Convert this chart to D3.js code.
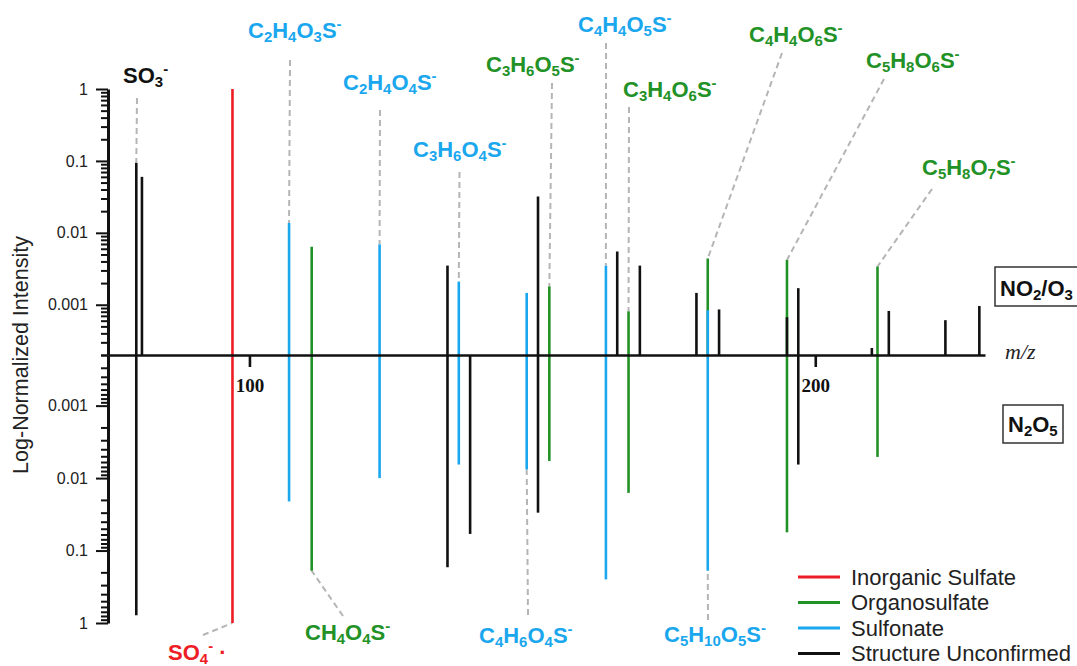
<!DOCTYPE html>
<html><head><meta charset="utf-8">
<script src="https://cdn.jsdelivr.net/npm/d3@7"></script>
<style>body{margin:0;background:#fff} svg{display:block}</style>
</head><body><svg id="c" width="1077" height="666"></svg>
<script>
// ---------------- DATA ----------------
const categories = ["Inorganic Sulfate","Organosulfate","Sulfonate","Structure Unconfirmed"];
// NO2/O3 panel (upward)
const topMz    = [80, 81, 97, 107, 111, 123, 135, 137, 149, 151, 153, 163, 165, 167, 169, 179, 181, 181, 183, 195, 195, 197, 210, 211, 213, 223, 229];
const topValue = [0.094, 0.060, 1, 0.0137, 0.0064, 0.0069, 0.0035, 0.0021, 0.00146, 0.032, 0.0018, 0.0035, 0.0055, 0.00081, 0.0035, 0.00146, 0.0044, 0.00084, 0.00086, 0.0042, 0.00067, 0.0017, 0.00025, 0.0034, 0.00082, 0.00061, 0.00096];
const topCat   = [3, 3, 0, 2, 1, 2, 3, 2, 2, 3, 1, 2, 3, 1, 3, 3, 1, 2, 3, 1, 3, 3, 3, 1, 3, 3, 3];
// N2O5 panel (downward)
const botMz    = [80, 97, 107, 111, 123, 135, 137, 139, 149, 151, 153, 163, 167, 181, 195, 197, 211];
const botValue = [0.78, 1, 0.021, 0.19, 0.010, 0.17, 0.0065, 0.059, 0.0076, 0.030, 0.0058, 0.25, 0.016, 0.19, 0.056, 0.0065, 0.0051];
const botCat   = [3, 0, 2, 1, 2, 3, 2, 3, 2, 3, 1, 2, 1, 2, 1, 3, 1];
// tick labels
const xTicks = [100, 200];
const yMajor = [1, 0.1, 0.01, 0.001];
// annotated ions: formula, m/z, panel, category
const ionLabels = [
  {f:"SO_3^-",      mz:80,  panel:"top", cat:3},
  {f:"C_2H_4O_3S^-", mz:107, panel:"top", cat:2},
  {f:"C_2H_4O_4S^-", mz:123, panel:"top", cat:2},
  {f:"C_3H_6O_4S^-", mz:137, panel:"top", cat:2},
  {f:"C_3H_6O_5S^-", mz:153, panel:"top", cat:1},
  {f:"C_4H_4O_5S^-", mz:163, panel:"top", cat:2},
  {f:"C_3H_4O_6S^-", mz:167, panel:"top", cat:1},
  {f:"C_4H_4O_6S^-", mz:181, panel:"top", cat:1},
  {f:"C_5H_8O_6S^-", mz:195, panel:"top", cat:1},
  {f:"C_5H_8O_7S^-", mz:211, panel:"top", cat:1},
  {f:"SO_4^- ·",     mz:97,  panel:"bot", cat:0},
  {f:"CH_4O_4S^-",   mz:111, panel:"bot", cat:1},
  {f:"C_4H_6O_4S^-", mz:149, panel:"bot", cat:2},
  {f:"C_5H_10O_5S^-",mz:181, panel:"bot", cat:2}
];
const panelNames = ["NO_2/O_3", "N_2O_5"];

// ---------------- LAYOUT / STYLE ----------------
const colors = ["#ee1c24", "#229126", "#1aa7ee", "#111111"];
// label placement: [text left x, baseline y, leader start x, leader start y]
const labelPos = [
  [123, 83, 137, 98],
  [248, 38, 290, 60],
  [343, 90, 380, 110],
  [413, 157, 459.5, 172],
  [486, 72, 552, 83],
  [578, 32, 606, 43],
  [623, 97, 629, 107],
  [749, 42, 782, 53],
  [866, 68, 884, 79],
  [922, 175, 932, 189],
  [168, 660, 203, 635],
  [305, 640, 343, 616],
  [479, 643, 528, 615],
  [664, 642, 708, 620]
];

const svg = d3.select("#c");
const x = d3.scaleLinear().domain([75, 230]).range([108, 985]);
const floorV = 0.0002;
const yTop = d3.scaleLog().domain([floorV, 1]).range([355, 89]);
const yBot = d3.scaleLog().domain([floorV, 1]).range([355, 623]);
const sans = "'Liberation Sans', Arial, Helvetica, sans-serif";
const serif = "'Liberation Serif', 'Times New Roman', serif";

function parseFormula(s){
  const parts=[]; let i=0;
  while(i<s.length){
    const c=s[i];
    if(c==='_'){ let j=i+1; while(j<s.length && /[0-9]/.test(s[j])) j++; parts.push({t:s.slice(i+1,j),k:'sub'}); i=j; }
    else if(c==='^'){ let j=i+1; while(j<s.length && !/[A-Z_\/ ]/.test(s[j])) j++; parts.push({t:s.slice(i+1,j),k:'sup'}); i=j; }
    else { let j=i; while(j<s.length && !'_^'.includes(s[j])) j++; parts.push({t:s.slice(i,j),k:'n'}); i=j; }
  }
  return parts;
}
function drawFormula(g, s, px, py, size, color, weight){
  const t = g.append("text").attr("x", px).attr("y", py)
    .attr("font-family", sans).attr("font-weight", weight||"bold")
    .attr("font-size", size).attr("fill", color).attr("xml:space", "preserve");
  let cur = 0;
  parseFormula(s).forEach(p=>{
    const target = p.k==='sub' ? size*0.2 : p.k==='sup' ? -size*0.42 : 0;
    t.append("tspan").attr("dy", target-cur)
      .attr("font-size", p.k==='n' ? size : size*0.68).text(p.t);
    cur = target;
  });
  return t;
}

// leaders (below spikes)
const gLead = svg.append("g");
ionLabels.forEach((d,i)=>{
  const lp = labelPos[i];
  const yEnd = d.panel==="top"
    ? yTop(topValue[topMz.findIndex((m,k)=>m===d.mz && topCat[k]===d.cat)])
    : yBot(botValue[botMz.findIndex((m,k)=>m===d.mz && botCat[k]===d.cat)]);
  gLead.append("line").attr("x1", lp[2]).attr("y1", lp[3])
    .attr("x2", x(d.mz)).attr("y2", yEnd)
    .attr("stroke", "#b5b5b5").attr("stroke-width", 2).attr("stroke-dasharray", "6,4");
});

// spikes
const gS = svg.append("g");
gS.selectAll(".t").data(topMz.map((m,i)=>({m, v:topValue[i], c:topCat[i]}))).enter()
  .append("line").attr("x1", d=>x(d.m)).attr("x2", d=>x(d.m))
  .attr("y1", yTop(floorV)).attr("y2", d=>yTop(d.v))
  .attr("stroke", d=>colors[d.c]).attr("stroke-width", 2.6);
gS.selectAll(".b").data(botMz.map((m,i)=>({m, v:botValue[i], c:botCat[i]}))).enter()
  .append("line").attr("x1", d=>x(d.m)).attr("x2", d=>x(d.m))
  .attr("y1", yBot(floorV)).attr("y2", d=>yBot(d.v))
  .attr("stroke", d=>colors[d.c]).attr("stroke-width", 2.6);

// x axis
const xa = svg.append("g").attr("transform", `translate(0,${yTop(floorV)})`)
  .call(d3.axisBottom(x).tickValues(xTicks).tickSize(12).tickSizeOuter(0).tickPadding(12).tickFormat(d3.format("d")));
xa.select(".domain").attr("stroke", "#111").attr("stroke-width", 2.6);
xa.selectAll(".tick line").attr("stroke", "#111").attr("stroke-width", 2.6);
xa.selectAll(".tick text").attr("font-family", serif).attr("font-weight", "bold")
  .attr("font-size", 19).attr("fill", "#111");

// y axes
function yAxis(scale){
  const g = svg.append("g").attr("transform", "translate(108,0)")
    .call(d3.axisLeft(scale).tickValues(scale.ticks()).tickSize(7).tickSizeOuter(0).tickPadding(13)
      .tickFormat(v => yMajor.some(m=>Math.abs(m-v)/m<1e-6) ? String(v) : ""));
  g.select(".domain").attr("stroke", "#111").attr("stroke-width", 3);
  g.selectAll(".tick line").attr("stroke", "#111").attr("stroke-width", 2)
    .attr("x2", v => yMajor.some(m=>Math.abs(m-v)/m<1e-6) ? -12 : -7);
  g.selectAll(".tick text").attr("font-family", sans).attr("font-size", 16).attr("fill", "#222");
  return g;
}
yAxis(yTop); yAxis(yBot);

svg.append("text").attr("transform", "translate(28,355) rotate(-90)")
  .attr("text-anchor", "middle").attr("font-family", sans).attr("font-size", 21.5)
  .attr("fill", "#222").text("Log-Normalized Intensity");

svg.append("text").attr("x", 1005).attr("y", 359).attr("font-family", serif)
  .attr("font-style", "italic").attr("font-size", 22).attr("fill", "#222").text("m/z");

// labels
const gL = svg.append("g");
ionLabels.forEach((d,i)=>{
  drawFormula(gL, d.f, labelPos[i][0], labelPos[i][1], 22, colors[d.cat]);
});

// panel boxes
svg.append("rect").attr("x", 995).attr("y", 267).attr("width", 95).attr("height", 39)
  .attr("fill", "#fff").attr("stroke", "#333").attr("stroke-width", 1.5);
drawFormula(svg, panelNames[0], 1000, 296, 22, "#111");
svg.append("rect").attr("x", 1003).attr("y", 405).attr("width", 60).attr("height", 38)
  .attr("fill", "#fff").attr("stroke", "#333").attr("stroke-width", 1.5);
drawFormula(svg, panelNames[1], 1008, 432, 22, "#111");

// legend
const lg = svg.append("g");
categories.forEach((c,i)=>{
  const yy = 577 + i*25.5;
  lg.append("line").attr("x1", 798).attr("x2", 840).attr("y1", yy).attr("y2", yy)
    .attr("stroke", colors[i]).attr("stroke-width", 3);
  lg.append("text").attr("x", 851).attr("y", yy+7.5).attr("font-family", sans)
    .attr("font-size", 22).attr("fill", "#222").text(c);
});
</script></body></html>
